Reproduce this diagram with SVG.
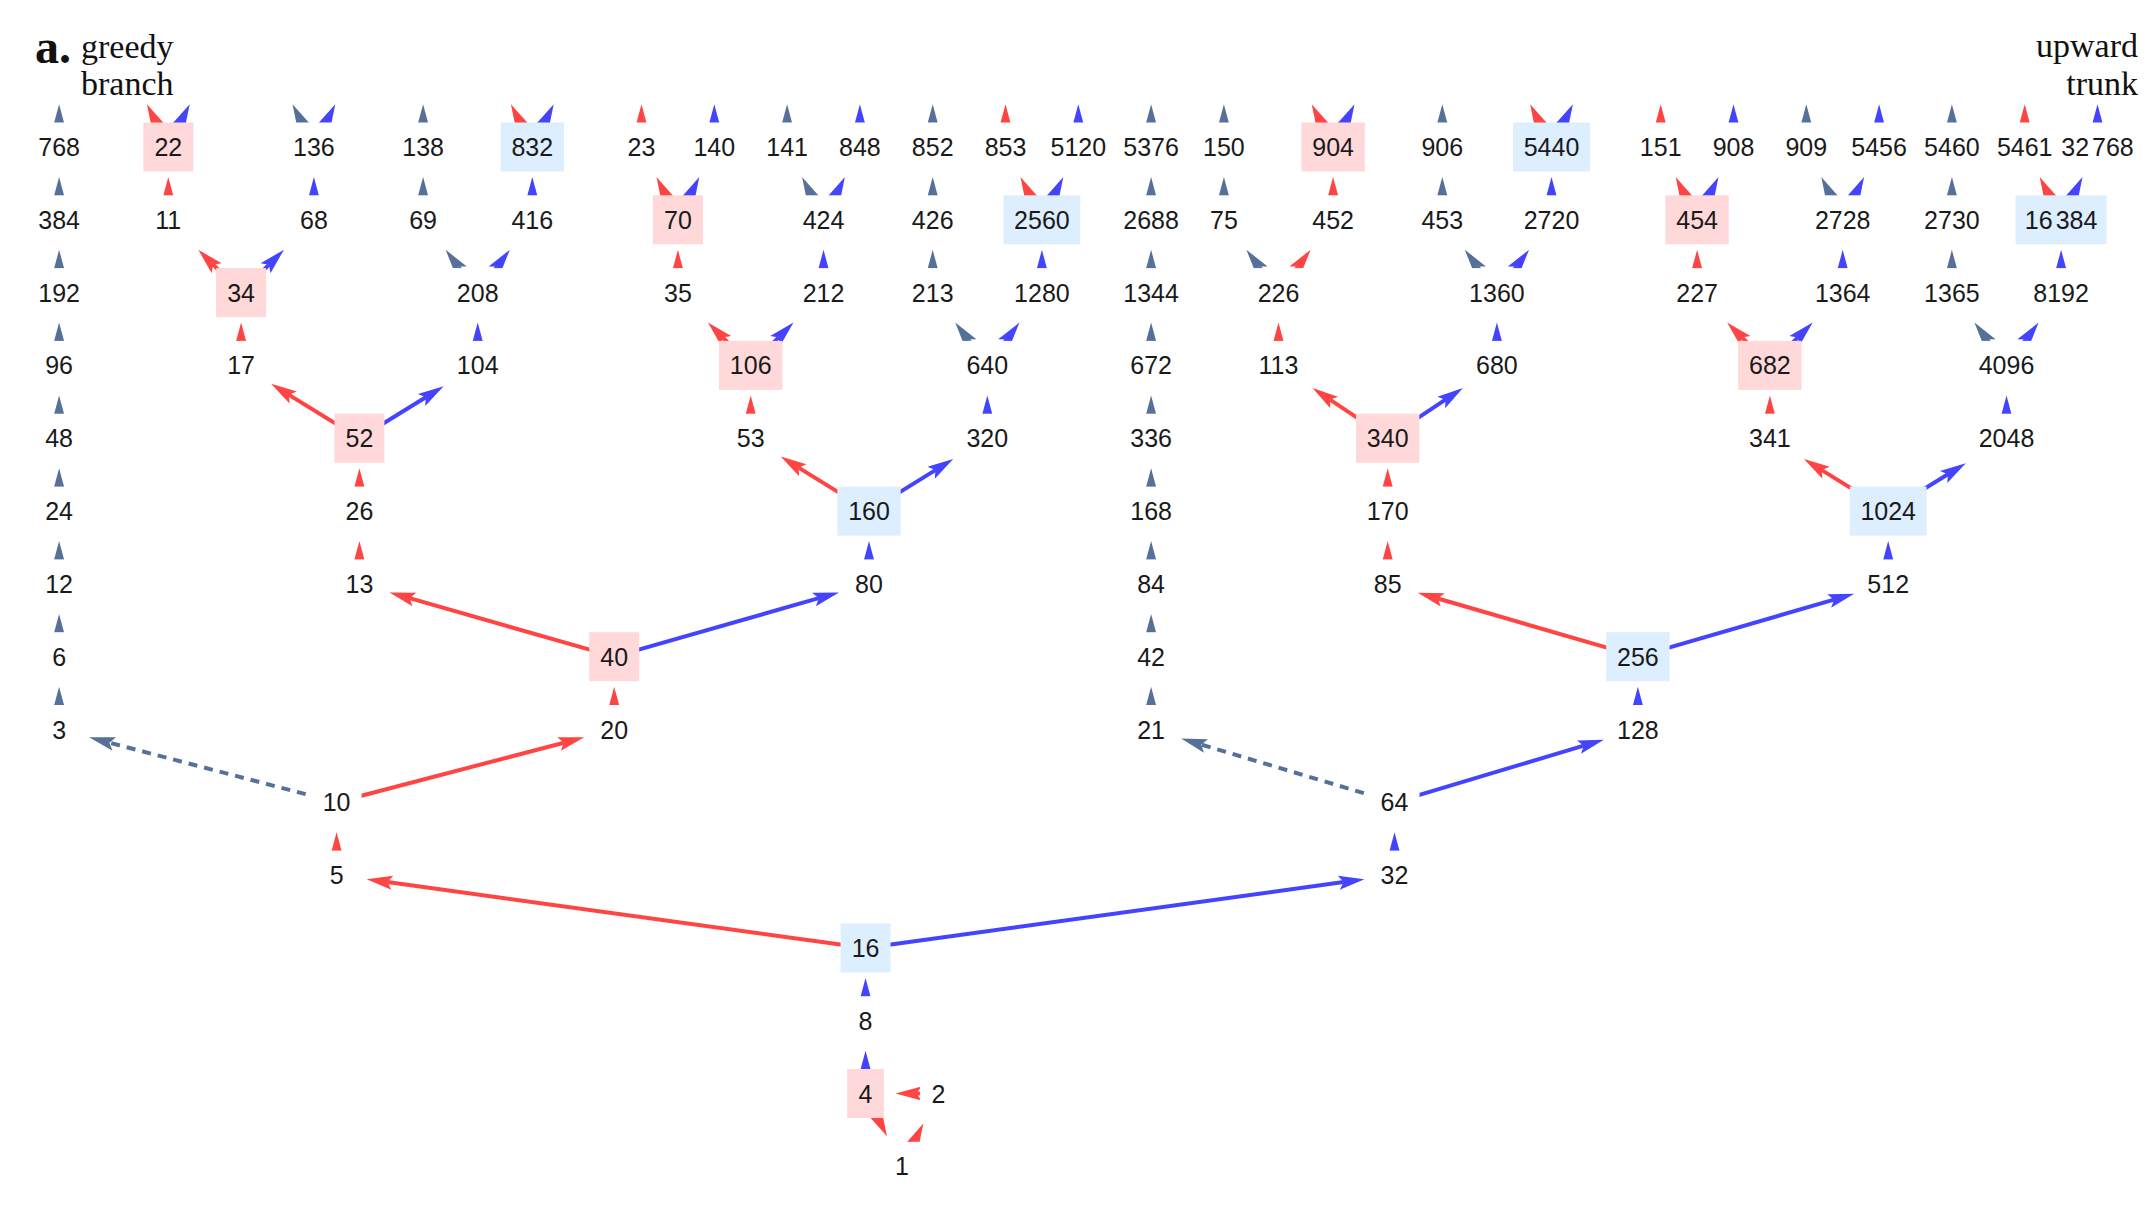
<svg xmlns="http://www.w3.org/2000/svg" width="2154" height="1224" viewBox="0 0 2154 1224">
<defs>
<marker id="mr" markerUnits="userSpaceOnUse" orient="auto" overflow="visible" markerWidth="1" markerHeight="1" refX="0" refY="0"><path d="M21,0 L-5,-7 L0,0 L-5,7 Z" fill="#FF4444"/></marker>
<marker id="mb" markerUnits="userSpaceOnUse" orient="auto" overflow="visible" markerWidth="1" markerHeight="1" refX="0" refY="0"><path d="M21,0 L-5,-7 L0,0 L-5,7 Z" fill="#4444FF"/></marker>
<marker id="ms" markerUnits="userSpaceOnUse" orient="auto" overflow="visible" markerWidth="1" markerHeight="1" refX="0" refY="0"><path d="M21,0 L-5,-7 L0,0 L-5,7 Z" fill="#56709A"/></marker>
<style>
.e path{fill:none;stroke-width:4}
.r{stroke:#FF4444;marker-end:url(#mr)}
.b{stroke:#4444FF;marker-end:url(#mb)}
.s{stroke:#56709A;marker-end:url(#ms)}
.d{stroke-dasharray:9 7}
.w{fill:#FFFFFF}
.p{fill:#FFD9D9}
.q{fill:#DDEEFF}
text.t{font-family:"Liberation Sans",Arial,sans-serif;font-size:25px;fill:#1a1a1a;text-anchor:middle}
.h{font-family:"Liberation Serif","Times New Roman",serif;fill:#111}
</style>
</defs>
<rect width="2154" height="1224" fill="#FFFFFF"/>
<g id="title">
<text class="h" x="35" y="63" font-size="48" font-weight="bold">a.</text>
<text class="h" x="81" y="58" font-size="34">greedy</text>
<text class="h" x="81" y="95" font-size="34">branch</text>
<text class="h" x="2138" y="57" font-size="34" text-anchor="end">upward</text>
<text class="h" x="2138" y="95" font-size="34" text-anchor="end">trunk</text>
</g>
<g id="connectors" class="e">
<path class="s" d="M59.1,729.5V707.7"/><path class="s" d="M59.1,656.7V634.9"/><path class="s" d="M59.1,583.9V562.1"/><path class="s" d="M59.1,511.1V489.3"/><path class="s" d="M59.1,438.2V416.4"/><path class="s" d="M59.1,365.4V343.6"/><path class="s" d="M59.1,292.6V270.8"/><path class="s" d="M59.1,219.8V198"/><path class="s" d="M59.1,147V125.2"/>
<path class="s" d="M1151.1,729.5V707.7"/><path class="s" d="M1151.1,656.7V634.9"/><path class="s" d="M1151.1,583.9V562.1"/><path class="s" d="M1151.1,511.1V489.3"/><path class="s" d="M1151.1,438.2V416.4"/><path class="s" d="M1151.1,365.4V343.6"/><path class="s" d="M1151.1,292.6V270.8"/><path class="s" d="M1151.1,219.8V198"/><path class="s" d="M1151.1,147V125.2"/>
<path class="s" d="M423.1,219.8V198"/><path class="s" d="M423.1,147V125.2"/>
<path class="s" d="M932.7,292.6V270.8"/><path class="s" d="M932.7,219.8V198"/><path class="s" d="M932.7,147V125.2"/>
<path class="s" d="M1223.9,219.8V198"/><path class="s" d="M1223.9,147V125.2"/>
<path class="s" d="M1442.3,219.8V198"/><path class="s" d="M1442.3,147V125.2"/>
<path class="s" d="M1951.9,292.6V270.8"/><path class="s" d="M1951.9,219.8V198"/><path class="s" d="M1951.9,147V125.2"/>
<path class="s" d="M787.1,147V125.2"/><path class="s" d="M1806.3,147V125.2"/>
<path class="r" d="M336.6,875.1V853.3"/><path class="r" d="M614.2,729.5V707.7"/>
<path class="r" d="M359.4,583.9V562.1"/><path class="r" d="M359.4,511.1V489.3"/>
<path class="r" d="M241.1,365.4V343.6"/><path class="r" d="M168.3,219.8V198"/>
<path class="r" d="M1387.7,583.9V562.1"/><path class="r" d="M1387.7,511.1V489.3"/>
<path class="r" d="M750.7,438.2V416.4"/><path class="r" d="M677.9,292.6V270.8"/>
<path class="r" d="M1278.5,365.4V343.6"/><path class="r" d="M1333.1,219.8V198"/>
<path class="r" d="M1769.9,438.2V416.4"/><path class="r" d="M1697.1,292.6V270.8"/>
<path class="r" d="M641.5,147V125.2"/><path class="r" d="M1005.5,147V125.2"/><path class="r" d="M1660.7,147V125.2"/><path class="r" d="M2024.7,147V125.2"/>
<path class="b" d="M865.55,1093.5V1071.7"/><path class="b" d="M865.55,1020.7V998.9"/>
<path class="b" d="M1394.5,875.1V853.3"/><path class="b" d="M1637.9,729.5V707.7"/>
<path class="b" d="M869,583.9V562.1"/><path class="b" d="M1888.2,583.9V562.1"/>
<path class="b" d="M477.7,365.4V343.6"/><path class="b" d="M987.3,438.2V416.4"/>
<path class="b" d="M1496.9,365.4V343.6"/><path class="b" d="M2006.5,438.2V416.4"/>
<path class="b" d="M313.9,219.8V198"/><path class="b" d="M532.3,219.8V198"/>
<path class="b" d="M823.5,292.6V270.8"/><path class="b" d="M1041.9,292.6V270.8"/>
<path class="b" d="M1551.5,219.8V198"/><path class="b" d="M1842.7,292.6V270.8"/>
<path class="b" d="M2061.1,292.6V270.8"/>
<path class="b" d="M714.3,147V125.2"/><path class="b" d="M859.9,147V125.2"/><path class="b" d="M1078.3,147V125.2"/><path class="b" d="M1733.5,147V125.2"/><path class="b" d="M1879.1,147V125.2"/><path class="b" d="M2097.5,147V125.2"/>
<path class="r" d="M677.9,219.8L665.9,195.8"/>
<path class="r" d="M168.3,147L156.3,123"/>
<path class="r" d="M532.3,147L520.3,123"/>
<path class="r" d="M1333.1,147L1321.1,123"/>
<path class="r" d="M1551.5,147L1539.5,123"/>
<path class="r" d="M1041.9,219.8L1029.9,195.8"/>
<path class="r" d="M1697.1,219.8L1685.1,195.8"/>
<path class="r" d="M2061.1,219.8L2049.1,195.8"/>
<path class="r" d="M241.1,292.6L213.15,264.65"/>
<path class="r" d="M750.7,365.4L722.75,337.45"/>
<path class="r" d="M1769.9,365.4L1741.95,337.45"/>
<path class="r" d="M1278.5,292.6L1298,266.6"/>
<path class="r" d="M359.4,438.2L288.97,394.85"/>
<path class="r" d="M869,511.1L798.57,467.65"/>
<path class="r" d="M1888.2,511.1L1821.8,470.1"/>
<path class="r" d="M1387.7,438.2L1329.97,399.71"/>
<path class="r" d="M614.2,656.7L409.6,598.2"/>
<path class="r" d="M1637.9,656.7L1437.87,598.5"/>
<path class="r" d="M336.6,802.3L563.9,742.7"/>
<path class="r" d="M865.55,947.9L387.4,882.1"/>
<path class="r" d="M938.35,1093.5L916.55,1093.5"/>
<path class="r" d="M865.55,1093.5L877.56,1117.5"/>
<path class="r" d="M901.95,1166.3L913.95,1142.3"/>
<path class="b" d="M677.9,219.8L689.9,195.8"/>
<path class="b" d="M823.5,219.8L835.5,195.8"/>
<path class="b" d="M1041.9,219.8L1053.9,195.8"/>
<path class="b" d="M1697.1,219.8L1709.1,195.8"/>
<path class="b" d="M1842.7,219.8L1854.7,195.8"/>
<path class="b" d="M2061.1,219.8L2073.1,195.8"/>
<path class="b" d="M168.3,147L180.3,123"/>
<path class="b" d="M313.9,147L325.9,123"/>
<path class="b" d="M532.3,147L544.3,123"/>
<path class="b" d="M1333.1,147L1345.1,123"/>
<path class="b" d="M1551.5,147L1563.5,123"/>
<path class="b" d="M241.1,292.6L269.05,264.65"/>
<path class="b" d="M750.7,365.4L778.65,337.45"/>
<path class="b" d="M1769.9,365.4L1797.85,337.45"/>
<path class="b" d="M477.7,292.6L497.2,266.6"/>
<path class="b" d="M987.3,365.4L1006.8,339.4"/>
<path class="b" d="M1496.9,292.6L1516.4,266.6"/>
<path class="b" d="M2006.5,365.4L2026,339.4"/>
<path class="b" d="M359.4,438.2L425.8,397.3"/>
<path class="b" d="M869,511.1L935.4,470.1"/>
<path class="b" d="M1888.2,511.1L1947.9,474.3"/>
<path class="b" d="M1387.7,438.2L1445.43,399.71"/>
<path class="b" d="M614.2,656.7L818.8,598.2"/>
<path class="b" d="M1637.9,656.7L1834,599.66"/>
<path class="b" d="M1394.5,802.3L1583.8,745.7"/>
<path class="b" d="M865.55,947.9L1343.7,882.1"/>
<path class="s" d="M823.5,219.8L811.5,195.8"/>
<path class="s" d="M1842.7,219.8L1830.7,195.8"/>
<path class="s" d="M313.9,147L301.9,123"/>
<path class="s" d="M477.7,292.6L458.2,266.6"/>
<path class="s" d="M987.3,365.4L967.8,339.4"/>
<path class="s" d="M1278.5,292.6L1259,266.6"/>
<path class="s" d="M1496.9,292.6L1477.4,266.6"/>
<path class="s" d="M2006.5,365.4L1987,339.4"/>
<path class="s d" d="M336.6,802.3L109.4,742.7"/>
<path class="s d" d="M1394.5,802.3L1201.2,744.5"/>
</g>
<g id="nodes">
<g id="n768"><rect class="w" x="27.4" y="122.5" width="63.4" height="49"/><text class="t" x="59.1" y="156">768</text></g>
<g id="n22"><rect class="p" x="143.3" y="122.5" width="50" height="49"/><text class="t" x="168.3" y="156">22</text></g>
<g id="n136"><rect class="w" x="282.2" y="122.5" width="63.4" height="49"/><text class="t" x="313.9" y="156">136</text></g>
<g id="n138"><rect class="w" x="391.4" y="122.5" width="63.4" height="49"/><text class="t" x="423.1" y="156">138</text></g>
<g id="n832"><rect class="q" x="500.6" y="122.5" width="63.4" height="49"/><text class="t" x="532.3" y="156">832</text></g>
<g id="n23"><rect class="w" x="616.5" y="122.5" width="50" height="49"/><text class="t" x="641.5" y="156">23</text></g>
<g id="n140"><rect class="w" x="682.6" y="122.5" width="63.4" height="49"/><text class="t" x="714.3" y="156">140</text></g>
<g id="n141"><rect class="w" x="755.4" y="122.5" width="63.4" height="49"/><text class="t" x="787.1" y="156">141</text></g>
<g id="n848"><rect class="w" x="828.2" y="122.5" width="63.4" height="49"/><text class="t" x="859.9" y="156">848</text></g>
<g id="n852"><rect class="w" x="901" y="122.5" width="63.4" height="49"/><text class="t" x="932.7" y="156">852</text></g>
<g id="n853"><rect class="w" x="973.8" y="122.5" width="63.4" height="49"/><text class="t" x="1005.5" y="156">853</text></g>
<g id="n5120"><rect class="w" x="1039.9" y="122.5" width="76.8" height="49"/><text class="t" x="1078.3" y="156">5120</text></g>
<g id="n5376"><rect class="w" x="1112.7" y="122.5" width="76.8" height="49"/><text class="t" x="1151.1" y="156">5376</text></g>
<g id="n150"><rect class="w" x="1192.2" y="122.5" width="63.4" height="49"/><text class="t" x="1223.9" y="156">150</text></g>
<g id="n904"><rect class="p" x="1301.4" y="122.5" width="63.4" height="49"/><text class="t" x="1333.1" y="156">904</text></g>
<g id="n906"><rect class="w" x="1410.6" y="122.5" width="63.4" height="49"/><text class="t" x="1442.3" y="156">906</text></g>
<g id="n5440"><rect class="q" x="1513.1" y="122.5" width="76.8" height="49"/><text class="t" x="1551.5" y="156">5440</text></g>
<g id="n151"><rect class="w" x="1629" y="122.5" width="63.4" height="49"/><text class="t" x="1660.7" y="156">151</text></g>
<g id="n908"><rect class="w" x="1701.8" y="122.5" width="63.4" height="49"/><text class="t" x="1733.5" y="156">908</text></g>
<g id="n909"><rect class="w" x="1774.6" y="122.5" width="63.4" height="49"/><text class="t" x="1806.3" y="156">909</text></g>
<g id="n5456"><rect class="w" x="1840.7" y="122.5" width="76.8" height="49"/><text class="t" x="1879.1" y="156">5456</text></g>
<g id="n5460"><rect class="w" x="1913.5" y="122.5" width="76.8" height="49"/><text class="t" x="1951.9" y="156">5460</text></g>
<g id="n5461"><rect class="w" x="1986.3" y="122.5" width="76.8" height="49"/><text class="t" x="2024.7" y="156">5461</text></g>
<g id="n32768"><rect class="w" x="2053" y="122.5" width="89" height="49"/><text class="t" x="2097.5" y="156">32<tspan dx="3">768</tspan></text></g>
<g id="n384"><rect class="w" x="27.4" y="195.3" width="63.4" height="49"/><text class="t" x="59.1" y="228.8">384</text></g>
<g id="n11"><rect class="w" x="143.3" y="195.3" width="50" height="49"/><text class="t" x="168.3" y="228.8">11</text></g>
<g id="n68"><rect class="w" x="288.9" y="195.3" width="50" height="49"/><text class="t" x="313.9" y="228.8">68</text></g>
<g id="n69"><rect class="w" x="398.1" y="195.3" width="50" height="49"/><text class="t" x="423.1" y="228.8">69</text></g>
<g id="n416"><rect class="w" x="500.6" y="195.3" width="63.4" height="49"/><text class="t" x="532.3" y="228.8">416</text></g>
<g id="n70"><rect class="p" x="652.9" y="195.3" width="50" height="49"/><text class="t" x="677.9" y="228.8">70</text></g>
<g id="n424"><rect class="w" x="791.8" y="195.3" width="63.4" height="49"/><text class="t" x="823.5" y="228.8">424</text></g>
<g id="n426"><rect class="w" x="901" y="195.3" width="63.4" height="49"/><text class="t" x="932.7" y="228.8">426</text></g>
<g id="n2560"><rect class="q" x="1003.5" y="195.3" width="76.8" height="49"/><text class="t" x="1041.9" y="228.8">2560</text></g>
<g id="n2688"><rect class="w" x="1112.7" y="195.3" width="76.8" height="49"/><text class="t" x="1151.1" y="228.8">2688</text></g>
<g id="n75"><rect class="w" x="1198.9" y="195.3" width="50" height="49"/><text class="t" x="1223.9" y="228.8">75</text></g>
<g id="n452"><rect class="w" x="1301.4" y="195.3" width="63.4" height="49"/><text class="t" x="1333.1" y="228.8">452</text></g>
<g id="n453"><rect class="w" x="1410.6" y="195.3" width="63.4" height="49"/><text class="t" x="1442.3" y="228.8">453</text></g>
<g id="n2720"><rect class="w" x="1513.1" y="195.3" width="76.8" height="49"/><text class="t" x="1551.5" y="228.8">2720</text></g>
<g id="n454"><rect class="p" x="1665.4" y="195.3" width="63.4" height="49"/><text class="t" x="1697.1" y="228.8">454</text></g>
<g id="n2728"><rect class="w" x="1804.3" y="195.3" width="76.8" height="49"/><text class="t" x="1842.7" y="228.8">2728</text></g>
<g id="n2730"><rect class="w" x="1913.5" y="195.3" width="76.8" height="49"/><text class="t" x="1951.9" y="228.8">2730</text></g>
<g id="n16384"><rect class="q" x="2015.6" y="195.3" width="91" height="49"/><text class="t" x="2061.1" y="228.8">16<tspan dx="3">384</tspan></text></g>
<g id="n192"><rect class="w" x="27.4" y="268.1" width="63.4" height="49"/><text class="t" x="59.1" y="301.6">192</text></g>
<g id="n34"><rect class="p" x="216.1" y="268.1" width="50" height="49"/><text class="t" x="241.1" y="301.6">34</text></g>
<g id="n208"><rect class="w" x="446" y="268.1" width="63.4" height="49"/><text class="t" x="477.7" y="301.6">208</text></g>
<g id="n35"><rect class="w" x="652.9" y="268.1" width="50" height="49"/><text class="t" x="677.9" y="301.6">35</text></g>
<g id="n212"><rect class="w" x="791.8" y="268.1" width="63.4" height="49"/><text class="t" x="823.5" y="301.6">212</text></g>
<g id="n213"><rect class="w" x="901" y="268.1" width="63.4" height="49"/><text class="t" x="932.7" y="301.6">213</text></g>
<g id="n1280"><rect class="w" x="1003.5" y="268.1" width="76.8" height="49"/><text class="t" x="1041.9" y="301.6">1280</text></g>
<g id="n1344"><rect class="w" x="1112.7" y="268.1" width="76.8" height="49"/><text class="t" x="1151.1" y="301.6">1344</text></g>
<g id="n226"><rect class="w" x="1246.8" y="268.1" width="63.4" height="49"/><text class="t" x="1278.5" y="301.6">226</text></g>
<g id="n1360"><rect class="w" x="1458.5" y="268.1" width="76.8" height="49"/><text class="t" x="1496.9" y="301.6">1360</text></g>
<g id="n227"><rect class="w" x="1665.4" y="268.1" width="63.4" height="49"/><text class="t" x="1697.1" y="301.6">227</text></g>
<g id="n1364"><rect class="w" x="1804.3" y="268.1" width="76.8" height="49"/><text class="t" x="1842.7" y="301.6">1364</text></g>
<g id="n1365"><rect class="w" x="1913.5" y="268.1" width="76.8" height="49"/><text class="t" x="1951.9" y="301.6">1365</text></g>
<g id="n8192"><rect class="w" x="2022.7" y="268.1" width="76.8" height="49"/><text class="t" x="2061.1" y="301.6">8192</text></g>
<g id="n96"><rect class="w" x="34.1" y="340.9" width="50" height="49"/><text class="t" x="59.1" y="374.4">96</text></g>
<g id="n17"><rect class="w" x="216.1" y="340.9" width="50" height="49"/><text class="t" x="241.1" y="374.4">17</text></g>
<g id="n104"><rect class="w" x="446" y="340.9" width="63.4" height="49"/><text class="t" x="477.7" y="374.4">104</text></g>
<g id="n106"><rect class="p" x="719" y="340.9" width="63.4" height="49"/><text class="t" x="750.7" y="374.4">106</text></g>
<g id="n640"><rect class="w" x="955.6" y="340.9" width="63.4" height="49"/><text class="t" x="987.3" y="374.4">640</text></g>
<g id="n672"><rect class="w" x="1119.4" y="340.9" width="63.4" height="49"/><text class="t" x="1151.1" y="374.4">672</text></g>
<g id="n113"><rect class="w" x="1246.8" y="340.9" width="63.4" height="49"/><text class="t" x="1278.5" y="374.4">113</text></g>
<g id="n680"><rect class="w" x="1465.2" y="340.9" width="63.4" height="49"/><text class="t" x="1496.9" y="374.4">680</text></g>
<g id="n682"><rect class="p" x="1738.2" y="340.9" width="63.4" height="49"/><text class="t" x="1769.9" y="374.4">682</text></g>
<g id="n4096"><rect class="w" x="1968.1" y="340.9" width="76.8" height="49"/><text class="t" x="2006.5" y="374.4">4096</text></g>
<g id="n48"><rect class="w" x="34.1" y="413.7" width="50" height="49"/><text class="t" x="59.1" y="447.2">48</text></g>
<g id="n52"><rect class="p" x="334.4" y="413.7" width="50" height="49"/><text class="t" x="359.4" y="447.2">52</text></g>
<g id="n53"><rect class="w" x="725.7" y="413.7" width="50" height="49"/><text class="t" x="750.7" y="447.2">53</text></g>
<g id="n320"><rect class="w" x="955.6" y="413.7" width="63.4" height="49"/><text class="t" x="987.3" y="447.2">320</text></g>
<g id="n336"><rect class="w" x="1119.4" y="413.7" width="63.4" height="49"/><text class="t" x="1151.1" y="447.2">336</text></g>
<g id="n340"><rect class="p" x="1356" y="413.7" width="63.4" height="49"/><text class="t" x="1387.7" y="447.2">340</text></g>
<g id="n341"><rect class="w" x="1738.2" y="413.7" width="63.4" height="49"/><text class="t" x="1769.9" y="447.2">341</text></g>
<g id="n2048"><rect class="w" x="1968.1" y="413.7" width="76.8" height="49"/><text class="t" x="2006.5" y="447.2">2048</text></g>
<g id="n24"><rect class="w" x="34.1" y="486.6" width="50" height="49"/><text class="t" x="59.1" y="520.1">24</text></g>
<g id="n26"><rect class="w" x="334.4" y="486.6" width="50" height="49"/><text class="t" x="359.4" y="520.1">26</text></g>
<g id="n160"><rect class="q" x="837.3" y="486.6" width="63.4" height="49"/><text class="t" x="869" y="520.1">160</text></g>
<g id="n168"><rect class="w" x="1119.4" y="486.6" width="63.4" height="49"/><text class="t" x="1151.1" y="520.1">168</text></g>
<g id="n170"><rect class="w" x="1356" y="486.6" width="63.4" height="49"/><text class="t" x="1387.7" y="520.1">170</text></g>
<g id="n1024"><rect class="q" x="1849.8" y="486.6" width="76.8" height="49"/><text class="t" x="1888.2" y="520.1">1024</text></g>
<g id="n12"><rect class="w" x="34.1" y="559.4" width="50" height="49"/><text class="t" x="59.1" y="592.9">12</text></g>
<g id="n13"><rect class="w" x="334.4" y="559.4" width="50" height="49"/><text class="t" x="359.4" y="592.9">13</text></g>
<g id="n80"><rect class="w" x="844" y="559.4" width="50" height="49"/><text class="t" x="869" y="592.9">80</text></g>
<g id="n84"><rect class="w" x="1126.1" y="559.4" width="50" height="49"/><text class="t" x="1151.1" y="592.9">84</text></g>
<g id="n85"><rect class="w" x="1362.7" y="559.4" width="50" height="49"/><text class="t" x="1387.7" y="592.9">85</text></g>
<g id="n512"><rect class="w" x="1856.5" y="559.4" width="63.4" height="49"/><text class="t" x="1888.2" y="592.9">512</text></g>
<g id="n6"><rect class="w" x="40.7" y="632.2" width="36.8" height="49"/><text class="t" x="59.1" y="665.7">6</text></g>
<g id="n40"><rect class="p" x="589.2" y="632.2" width="50" height="49"/><text class="t" x="614.2" y="665.7">40</text></g>
<g id="n42"><rect class="w" x="1126.1" y="632.2" width="50" height="49"/><text class="t" x="1151.1" y="665.7">42</text></g>
<g id="n256"><rect class="q" x="1606.2" y="632.2" width="63.4" height="49"/><text class="t" x="1637.9" y="665.7">256</text></g>
<g id="n3"><rect class="w" x="40.7" y="705" width="36.8" height="49"/><text class="t" x="59.1" y="738.5">3</text></g>
<g id="n20"><rect class="w" x="589.2" y="705" width="50" height="49"/><text class="t" x="614.2" y="738.5">20</text></g>
<g id="n21"><rect class="w" x="1126.1" y="705" width="50" height="49"/><text class="t" x="1151.1" y="738.5">21</text></g>
<g id="n128"><rect class="w" x="1606.2" y="705" width="63.4" height="49"/><text class="t" x="1637.9" y="738.5">128</text></g>
<g id="n10"><rect class="w" x="311.6" y="777.8" width="50" height="49"/><text class="t" x="336.6" y="811.3">10</text></g>
<g id="n64"><rect class="w" x="1369.5" y="777.8" width="50" height="49"/><text class="t" x="1394.5" y="811.3">64</text></g>
<g id="n5"><rect class="w" x="318.2" y="850.6" width="36.8" height="49"/><text class="t" x="336.6" y="884.1">5</text></g>
<g id="n32"><rect class="w" x="1369.5" y="850.6" width="50" height="49"/><text class="t" x="1394.5" y="884.1">32</text></g>
<g id="n16"><rect class="q" x="840.55" y="923.4" width="50" height="49"/><text class="t" x="865.55" y="956.9">16</text></g>
<g id="n8"><rect class="w" x="847.15" y="996.2" width="36.8" height="49"/><text class="t" x="865.55" y="1029.7">8</text></g>
<g id="n4"><rect class="p" x="847.15" y="1069" width="36.8" height="49"/><text class="t" x="865.55" y="1102.5">4</text></g>
<g id="n2"><rect class="w" x="919.95" y="1069" width="36.8" height="49"/><text class="t" x="938.35" y="1102.5">2</text></g>
<g id="n1"><rect class="w" x="883.55" y="1141.8" width="36.8" height="49"/><text class="t" x="901.95" y="1175.3">1</text></g>
</g>
</svg>
